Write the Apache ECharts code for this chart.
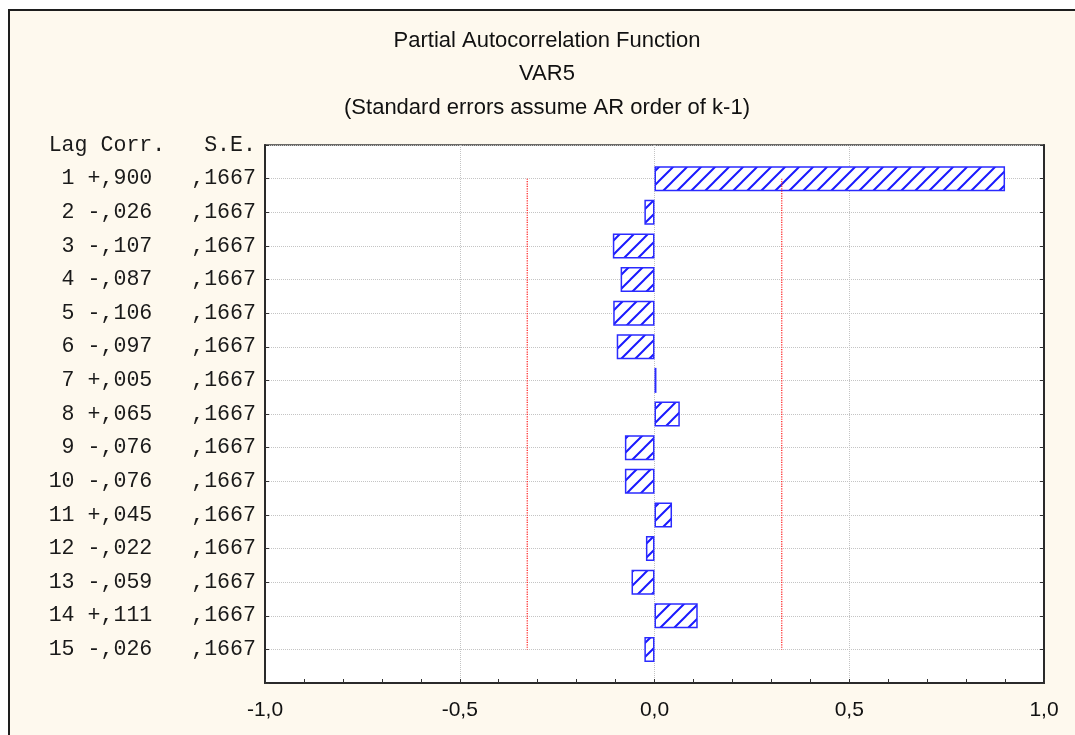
<!DOCTYPE html>
<html>
<head>
<meta charset="utf-8">
<script src="https://cdn.jsdelivr.net/npm/echarts@6/dist/echarts.min.js"></script>
<style>
  html, body { margin: 0; padding: 0; background: #ffffff; }
  #chart { width: 1075px; height: 735px; }
</style>
</head>
<body>
<div id="chart"></div>
<script>
// data
const lags = [1, 2, 3, 4, 5, 6, 7, 8, 9, 10, 11, 12, 13, 14, 15]
const corr = [0.900, -0.026, -0.107, -0.087, -0.106, -0.097, 0.005, 0.065, -0.076, -0.076, 0.045, -0.022, -0.059, 0.111, -0.026]
const stdErr = [0.1667, 0.1667, 0.1667, 0.1667, 0.1667, 0.1667, 0.1667, 0.1667, 0.1667, 0.1667, 0.1667, 0.1667, 0.1667, 0.1667, 0.1667]
const xTicks = [-1, -0.5, 0, 0.5, 1]
const titleLines = ['Partial Autocorrelation Function', 'VAR5', '(Standard errors assume AR order of k-1)']
const header = 'Lag Corr.   S.E.'

// helpers to print numbers the way the table does (comma decimal)
const fmtCorr = v => (v < 0 ? '-' : '+') + ',' + Math.abs(v).toFixed(3).slice(2)
const fmtSE = v => ',' + v.toFixed(4).slice(2)
const pad = (s, n) => (' '.repeat(n) + s).slice(-n)

// category slots: header row at top, lags, blank slot at bottom
const yCats = [header].concat(lags.map((l, i) => pad(String(l), 2) + ' ' + fmtCorr(corr[i]) + '   ' + fmtSE(stdErr[i]))).concat([''])
const barData = [null].concat(corr).concat([null])
const limit = 1.96 * stdErr[0]
const first = 1
const last = lags.length

// hatch fill
const hatch = document.createElement('canvas')
hatch.width = 14
hatch.height = 14
const ctx = hatch.getContext('2d')
ctx.fillStyle = '#ffffff'
ctx.fillRect(0, 0, 14, 14)
ctx.strokeStyle = '#1a1aff'
ctx.lineWidth = 2
ctx.beginPath()
ctx.moveTo(0, 14); ctx.lineTo(14, 0)
ctx.moveTo(-2, 2); ctx.lineTo(2, -2)
ctx.moveTo(12, 16); ctx.lineTo(16, 12)
ctx.stroke()

const chart = echarts.init(document.getElementById('chart'))

const gridLine = { show: true, lineStyle: { color: '#c4c4c4', type: 'dotted', width: 1 } }

chart.setOption({
  animation: false,
  backgroundColor: '#ffffff',
  graphic: [{
    type: 'rect',
    z: -10,
    shape: { x: 9, y: 10, width: 1100, height: 800 },
    style: { fill: '#fef9ee', stroke: '#1e1e1e', lineWidth: 2 },
  }],
  title: {
    text: titleLines.join('\n'),
    left: 542,
    top: 19,
    textAlign: 'center',
    textStyle: {
      fontFamily: 'Liberation Sans',
      fontSize: 22,
      fontWeight: 'normal',
      color: '#111111',
      lineHeight: 33.5,
    },
  },
  grid: {
    left: 265,
    right: 31,
    top: 145,
    bottom: 52,
    show: true,
    backgroundColor: '#ffffff',
    borderColor: '#3a3a3a',
    borderWidth: 1.5,
  },
  xAxis: {
    type: 'value',
    min: -1,
    max: 1,
    interval: 0.5,
    axisLine: { show: true, onZero: false, lineStyle: { color: '#2a2a2a', width: 2 } },
    axisTick: { show: true, inside: true, length: 4, lineStyle: { color: '#333' } },
    minorTick: { show: true, splitNumber: 5, length: 4, lineStyle: { color: '#333' } },
    splitLine: gridLine,
    axisLabel: {
      margin: 17,
      fontFamily: 'Liberation Sans',
      fontSize: 21,
      color: '#111111',
      formatter: v => xTicks.includes(v) ? v.toFixed(1).replace('.', ',') : '',
    },
  },
  yAxis: [{
    type: 'category',
    data: yCats,
    inverse: true,
    boundaryGap: false,
    axisLine: { show: true, onZero: false, lineStyle: { color: '#2a2a2a', width: 2 } },
    axisTick: { show: true, inside: true, length: 4, lineStyle: { color: '#333' } },
    splitLine: gridLine,
    axisLabel: {
      margin: 9,
      interval: 0,
      fontFamily: 'Liberation Mono',
      fontSize: 21.6,
      color: '#1a1a1a',
    },
  }, {
    type: 'category',
    data: yCats,
    inverse: true,
    boundaryGap: false,
    position: 'right',
    axisLine: { show: true, onZero: false, lineStyle: { color: '#2a2a2a', width: 2 } },
    axisTick: { show: true, inside: true, length: 4, lineStyle: { color: '#333' } },
    axisLabel: { show: false },
    splitLine: { show: false },
  }],
  series: [
    {
      type: 'bar',
      data: barData,
      barWidth: 25,
      itemStyle: {
        color: { image: hatch, repeat: 'repeat' },
        borderColor: '#2b2bff',
        borderWidth: 1.5,
      },
    },
    {
      type: 'line',
      data: [[limit, first], [limit, last]],
      symbol: 'none',
      lineStyle: { color: '#ff1a1a', type: 'dotted', width: 1.2 },
    },
    {
      type: 'line',
      data: [[-limit, first], [-limit, last]],
      symbol: 'none',
      lineStyle: { color: '#ff1a1a', type: 'dotted', width: 1.2 },
    },
  ],
})
</script>
</body>
</html>
